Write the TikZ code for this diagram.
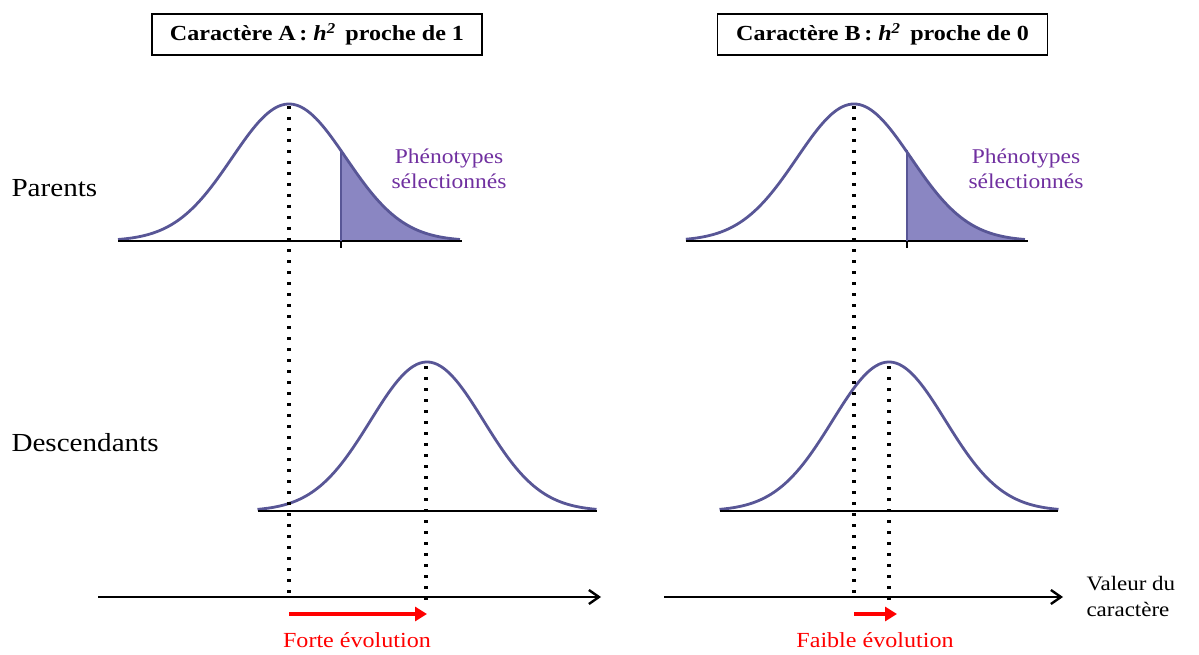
\documentclass[tikz,border=0pt]{standalone}
\usepackage{fontspec}
\setmainfont{Liberation Serif}[FakeStretch=1.12]
\usetikzlibrary{arrows.meta}
\definecolor{curvecol}{RGB}{88,86,150}
\definecolor{fillcol}{RGB}{138,134,194}
\definecolor{purplelab}{RGB}{112,48,160}
\tikzset{
  gauss/.style={draw=curvecol, line width=2.8pt},
  baseln/.style={draw=black, line width=1.8pt},
  dotln/.style={draw=black, line width=3.2pt, dash pattern=on 3.2pt off 7.8pt},
  axisln/.style={draw=black, line width=2.6pt, -{Straight Barb[length=10pt,width=14pt,line width=2.4pt]}},
  evoarrow/.style={draw=red, line width=3.6pt, -{Triangle[length=12pt,width=14pt]}},
  titlebox/.style={draw=black, line width=1.3pt, minimum width=330pt, minimum height=41pt, font=\fontsize{21.5}{24}\selectfont\bfseries},
  rowlab/.style={anchor=west, font=\fontsize{26}{30}\selectfont},
  phenlab/.style={text=purplelab, align=center, font=\fontsize{21}{25}\selectfont},
  evolab/.style={text=red, font=\fontsize{21.5}{25}\selectfont},
  axlab/.style={anchor=west, align=left, font=\fontsize{20.5}{26}\selectfont}
}
\begin{document}
\begin{tikzpicture}[x=1pt,y=-1pt]
\useasboundingbox (0,0) rectangle (1199,655);
% titles
\node[titlebox] (tA) at (317,34.5) {Caractère A\,: \textit{h\textsuperscript{2}}\, proche de 1};
\node[titlebox] (tB) at (882.5,34.5) {Caractère B\,: \textit{h\textsuperscript{2}}\, proche de 0};
% row labels
\node[rowlab] (lp) at (8,188) {Parents};
\node[rowlab] (ld) at (8,443) {Descendants};
% parent A
\fill[fillcol] plot[domain=0.912:3, samples=60, variable=\t] ({289+57*\t},{241-137*exp(-\t*\t/2)}) -- (460,241) -- (341,241) -- cycle;
\draw[gauss] plot[domain=-3:3, samples=120, variable=\t] ({289+57*\t},{241-137*exp(-\t*\t/2)});
\coordinate (pAl) at (118,241); \coordinate (pAr) at (462,241);
\draw[baseln] (pAl) -- (pAr);
\coordinate (tkA1) at (341,150); \coordinate (tkA2) at (341,248);
\draw[draw=curvecol, line width=1.2pt] (tkA1) -- (341,241);
\draw[line width=1.4pt] (341,241) -- (tkA2);
% parent B
\fill[fillcol] plot[domain=0.93:3, samples=60, variable=\t] ({854+57*\t},{241-137*exp(-\t*\t/2)}) -- (1025,241) -- (907,241) -- cycle;
\draw[gauss] plot[domain=-2.95:3, samples=120, variable=\t] ({854+57*\t},{241-137*exp(-\t*\t/2)});
\coordinate (pBl) at (686,241); \coordinate (pBr) at (1028,241);
\draw[baseln] (pBl) -- (pBr);
\coordinate (tkB1) at (907,150); \coordinate (tkB2) at (907,248);
\draw[draw=curvecol, line width=1.2pt] (tkB1) -- (907,241);
\draw[line width=1.4pt] (907,241) -- (tkB2);
% phenotype labels
\node[phenlab] (phA) at (449,169) {Phénotypes\\sélectionnés};
\node[phenlab] (phB) at (1026,169) {Phénotypes\\sélectionnés};
% descendants A
\draw[gauss] plot[domain=-3:3, samples=120, variable=\t] ({427+56.5*\t},{511-149*exp(-\t*\t/2)});
\coordinate (dAl) at (258,511); \coordinate (dAr) at (597,511);
\draw[baseln] (dAl) -- (dAr);
% descendants B
\draw[gauss] plot[domain=-3:3, samples=120, variable=\t] ({889+56.5*\t},{511-149*exp(-\t*\t/2)});
\coordinate (dBl) at (720,511); \coordinate (dBr) at (1058,511);
\draw[baseln] (dBl) -- (dBr);
% axes
\coordinate (axA1) at (98,597); \coordinate (axA2) at (601,597);
\coordinate (axB1) at (664,597); \coordinate (axB2) at (1063,597);
\draw[axisln] (axA1) -- (axA2);
\draw[axisln] (axB1) -- (axB2);
% dotted lines
\coordinate (mA0) at (289,106); \coordinate (mA1) at (289,600);
\coordinate (mA2) at (426,366); \coordinate (mA3) at (426,600);
\coordinate (mB0) at (854,106); \coordinate (mB1) at (854,600);
\coordinate (mB2) at (889,366); \coordinate (mB3) at (889,600);
\draw[dotln] (mA0) -- (mA1);
\draw[dotln] (mA2) -- (mA3);
\draw[dotln] (mB0) -- (mB1);
\draw[dotln] (mB2) -- (mB3);
% evolution arrows
\coordinate (eA1) at (289,614); \coordinate (eA2) at (427,614);
\coordinate (eB1) at (854,614); \coordinate (eB2) at (897,614);
\draw[evoarrow] (eA1) -- (eA2);
\draw[evoarrow] (eB1) -- (eB2);
\node[evolab] (fA) at (357,640) {Forte évolution};
\node[evolab] (fB) at (875,640) {Faible évolution};
% axis label
\node[axlab] (val) at (1083,596) {Valeur du\\caractère};
\end{tikzpicture}
\end{document}
